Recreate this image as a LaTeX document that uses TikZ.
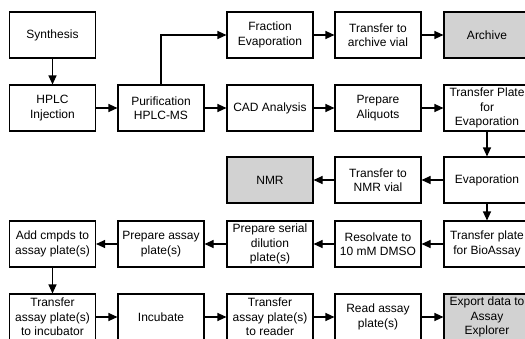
\documentclass[tikz,border=0pt]{standalone}
\usepackage{fontspec}
\setmainfont{Liberation Sans}
\usetikzlibrary{arrows.meta}
\definecolor{endfill}{RGB}{210,210,210}
\tikzset{
	stepbox/.style={draw=black, line width=1.1pt, minimum width=86pt, minimum height=46pt, inner sep=1pt, align=center, font=\fontsize{12}{14.5}\selectfont},
	endbox/.style={stepbox, fill=endfill},
	flow/.style={draw=black, line width=1.1pt, -{Triangle[length=9pt,width=8pt]}}
}
\begin{document}
\begin{tikzpicture}[x=1pt, y=-1pt]
			\useasboundingbox (0.00,0.00) rectangle (525.00,338.00);
			\clip (0.00,0.00) rectangle (525.00,338.00);
			\node[stepbox] (synth) at (52.50,35.00) {Synthesis};
			\node[stepbox] (hplc) at (52.50,108.00) {HPLC\\Injection};
			\node[stepbox] (purif) at (161.00,108.00) {Purification\\HPLC-MS};
			\node[stepbox] (fracevap) at (270.00,35.00) {Fraction\\Evaporation};
			\node[stepbox] (archvial) at (378.00,35.00) {Transfer to\\archive vial};
			\node[endbox] (archive) at (487.00,35.00) {Archive};
			\node[stepbox] (cad) at (270.00,108.00) {CAD Analysis};
			\node[stepbox] (aliquots) at (378.00,108.00) {Prepare\\Aliquots};
			\node[stepbox] (xferevap) at (487.00,108.00) {Transfer Plate\\for\\Evaporation};
			\node[stepbox] (evap) at (487.00,180.00) {Evaporation};
			\node[stepbox] (nmrvial) at (378.00,180.00) {Transfer to\\NMR vial};
			\node[endbox] (nmr) at (270.00,180.00) {NMR};
			\node[stepbox] (xferbio) at (487.00,244.00) {Transfer plate\\for BioAssay};
			\node[stepbox] (resolv) at (378.00,244.00) {Resolvate to\\10 mM DMSO};
			\node[stepbox] (serial) at (270.00,244.00) {Prepare serial\\dilution\\plate(s)};
			\node[stepbox] (prepassay) at (161.00,244.00) {Prepare assay\\plate(s)};
			\node[stepbox] (addcmpd) at (52.50,244.00) {Add cmpds to\\assay plate(s)};
			\node[stepbox] (xferinc) at (52.50,317.00) {Transfer\\assay plate(s)\\to incubator};
			\node[stepbox] (incub) at (161.00,317.00) {Incubate};
			\node[stepbox] (xferread) at (270.00,317.00) {Transfer\\assay plate(s)\\to reader};
			\node[stepbox] (readplate) at (378.00,317.00) {Read assay\\plate(s)};
			\node[endbox] (export) at (487.00,317.00) {Export data to\\Assay\\Explorer};
			\draw[flow] (synth) -- (hplc);
			\draw[flow] (hplc) -- (purif);
			\draw[flow] (purif.north) |- (fracevap.west);
			\draw[flow] (purif) -- (cad);
			\draw[flow] (fracevap) -- (archvial);
			\draw[flow] (archvial) -- (archive);
			\draw[flow] (cad) -- (aliquots);
			\draw[flow] (aliquots) -- (xferevap);
			\draw[flow] (xferevap) -- (evap);
			\draw[flow] (evap) -- (nmrvial);
			\draw[flow] (nmrvial) -- (nmr);
			\draw[flow] (evap) -- (xferbio);
			\draw[flow] (xferbio) -- (resolv);
			\draw[flow] (resolv) -- (serial);
			\draw[flow] (serial) -- (prepassay);
			\draw[flow] (prepassay) -- (addcmpd);
			\draw[flow] (addcmpd) -- (xferinc);
			\draw[flow] (xferinc) -- (incub);
			\draw[flow] (incub) -- (xferread);
			\draw[flow] (xferread) -- (readplate);
			\draw[flow] (readplate) -- (export);
		\end{tikzpicture}
\end{document}
